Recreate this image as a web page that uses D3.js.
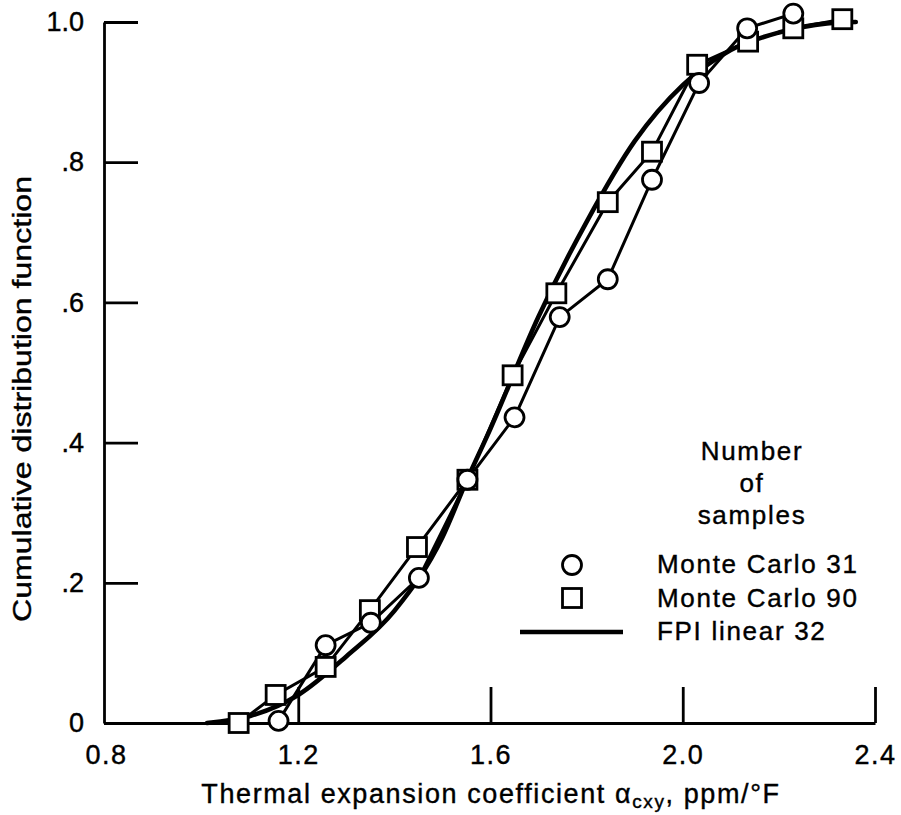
<!DOCTYPE html>
<html>
<head>
<meta charset="utf-8">
<script src="https://cdn.jsdelivr.net/npm/d3@7.9.0/dist/d3.min.js"></script>
<style>
  html, body { margin: 0; padding: 0; background: #fff; }
  svg { display: block; font-family: "Liberation Sans", Arial, sans-serif; }
  text { stroke: #000; stroke-width: 0.4px; }
</style>
</head>
<body>
<svg id="chart" width="901" height="815"></svg>
<script>
// Monte Carlo, 31 samples (circles)
const mc31X = [1.159, 1.257, 1.351, 1.451, 1.552, 1.650, 1.744, 1.844, 1.936, 2.034, 2.134, 2.230];
const mc31Y = [0.003, 0.111, 0.143, 0.207, 0.347, 0.436, 0.579, 0.633, 0.775, 0.913, 0.991, 1.012];

// Monte Carlo, 90 samples (squares)
const mc90X = [1.076, 1.153, 1.257, 1.349, 1.447, 1.552, 1.646, 1.737, 1.844, 1.936, 2.030, 2.136, 2.230, 2.332];
const mc90Y = [0.000, 0.040, 0.080, 0.161, 0.251, 0.347, 0.496, 0.613, 0.743, 0.815, 0.939, 0.972, 0.991, 1.004];

// FPI linear, 32 samples (smooth curve)
const fpiX = [1.01, 1.1, 1.2, 1.3, 1.4, 1.5, 1.55, 1.6, 1.7, 1.8, 1.9, 2.0, 2.1, 2.2, 2.3, 2.36];
const fpiY = [0, 0.01, 0.04, 0.095, 0.16, 0.265, 0.345, 0.42, 0.58, 0.715, 0.83, 0.91, 0.96, 0.985, 0.998, 1.0];

const xTicks = [0.8, 1.2, 1.6, 2.0, 2.4];
const yTicks = [0, 0.2, 0.4, 0.6, 0.8, 1.0];
const legendTitle = ["Number", "of", "samples"];
const legendLabels = ["Monte Carlo 31", "Monte Carlo 90", "FPI linear 32"];

const svg = d3.select("#chart");

const x = d3.scaleLinear().domain([0.8, 2.4]).range([106, 875]);
const y = d3.scaleLinear().domain([0, 1]).range([723, 22]);

const zip = (xs, ys) => xs.map((v, i) => ({ x: v, y: ys[i] }));
const mc31 = zip(mc31X, mc31Y);
const mc90 = zip(mc90X, mc90Y);
const fpi = zip(fpiX, fpiY);

// Axes
const xAxis = d3.axisBottom(x)
  .tickValues(xTicks)
  .tickSizeInner(-36)
  .tickSizeOuter(0)
  .tickPadding(22)
  .tickFormat(d3.format(".1f"));

const yAxis = d3.axisLeft(y)
  .tickValues(yTicks)
  .tickSizeInner(-34)
  .tickSizeOuter(0)
  .tickPadding(20)
  .tickFormat((d) => d === 0 ? "0" : d === 1 ? "1.0" : d3.format(".1f")(d).replace(/^0/, ""));

const gx = svg.append("g")
  .attr("transform", `translate(0,${y(0)})`)
  .call(xAxis);

const gy = svg.append("g")
  .attr("transform", `translate(${x(0.8) - 2},0)`)
  .call(yAxis);

[gx, gy].forEach((g) => {
  g.select(".domain").attr("stroke", "#000").attr("stroke-width", 2.8);
  g.selectAll(".tick line").attr("stroke", "#000").attr("stroke-width", 2.8);
  g.selectAll(".tick text")
    .attr("fill", "#000")
    .attr("font-size", 27)
    .attr("font-family", "Liberation Sans, Arial, sans-serif");
});
gx.selectAll(".tick text").attr("letter-spacing", 1.5);
gx.selectAll(".tick").filter((d) => d === 0.8).select("line").remove();

// Axis titles
svg.append("text")
  .attr("transform", `translate(31,399) rotate(-90)`)
  .attr("text-anchor", "middle")
  .attr("font-size", 26)
  .attr("textLength", 446)
  .attr("lengthAdjust", "spacingAndGlyphs")
  .text("Cumulative distribution function");

const xt = svg.append("text")
  .attr("x", 491)
  .attr("y", 803)
  .attr("text-anchor", "middle")
  .attr("font-size", 27)
  .attr("letter-spacing", 1.6);
xt.append("tspan").text("Thermal expansion coefficient \u03b1");
xt.append("tspan").attr("font-size", 19).attr("dy", 5).text("cxy");
xt.append("tspan").attr("dy", -5).text(", ppm/\u00b0F");

// Series lines
const smooth = d3.line().x((d) => x(d.x)).y((d) => y(d.y)).curve(d3.curveMonotoneX);
const straight = d3.line().x((d) => x(d.x)).y((d) => y(d.y));

svg.append("path")
  .datum(fpi)
  .attr("d", smooth)
  .attr("fill", "none")
  .attr("stroke", "#000")
  .attr("stroke-width", 4.6)
  .attr("stroke-linecap", "round");

svg.append("path")
  .datum(mc90)
  .attr("d", straight)
  .attr("fill", "none")
  .attr("stroke", "#000")
  .attr("stroke-width", 3);

svg.append("path")
  .datum(mc31)
  .attr("d", straight)
  .attr("fill", "none")
  .attr("stroke", "#000")
  .attr("stroke-width", 3);

// Markers
const side = 19;
svg.selectAll("rect.mc90")
  .data(mc90)
  .enter()
  .append("rect")
  .attr("class", "mc90")
  .attr("x", (d) => x(d.x) - side / 2)
  .attr("y", (d) => y(d.y) - side / 2)
  .attr("width", side)
  .attr("height", side)
  .attr("fill", "#fff")
  .attr("stroke", "#000")
  .attr("stroke-width", 2.8);

svg.selectAll("circle.mc31")
  .data(mc31)
  .enter()
  .append("circle")
  .attr("class", "mc31")
  .attr("cx", (d) => x(d.x))
  .attr("cy", (d) => y(d.y))
  .attr("r", 9.5)
  .attr("fill", "#fff")
  .attr("stroke", "#000")
  .attr("stroke-width", 2.8);

// Legend
const lg = svg.append("g").attr("font-size", 26).attr("letter-spacing", 1.7);

lg.selectAll("text.title")
  .data(legendTitle)
  .enter()
  .append("text")
  .attr("class", "title")
  .attr("x", 752)
  .attr("y", (d, i) => 460 + i * 32)
  .attr("text-anchor", "middle")
  .text((d) => d);

lg.selectAll("text.label")
  .data(legendLabels)
  .enter()
  .append("text")
  .attr("class", "label")
  .attr("x", 657)
  .attr("y", (d, i) => 573 + i * 33.5)
  .text((d) => d);

lg.append("circle")
  .attr("cx", 572)
  .attr("cy", 565)
  .attr("r", 9.5)
  .attr("fill", "#fff")
  .attr("stroke", "#000")
  .attr("stroke-width", 2.8);

lg.append("rect")
  .attr("x", 572 - side / 2)
  .attr("y", 598 - side / 2)
  .attr("width", side)
  .attr("height", side)
  .attr("fill", "#fff")
  .attr("stroke", "#000")
  .attr("stroke-width", 2.8);

lg.append("line")
  .attr("x1", 520)
  .attr("x2", 623)
  .attr("y1", 632)
  .attr("y2", 632)
  .attr("stroke", "#000")
  .attr("stroke-width", 4.6);
</script>
</body>
</html>
